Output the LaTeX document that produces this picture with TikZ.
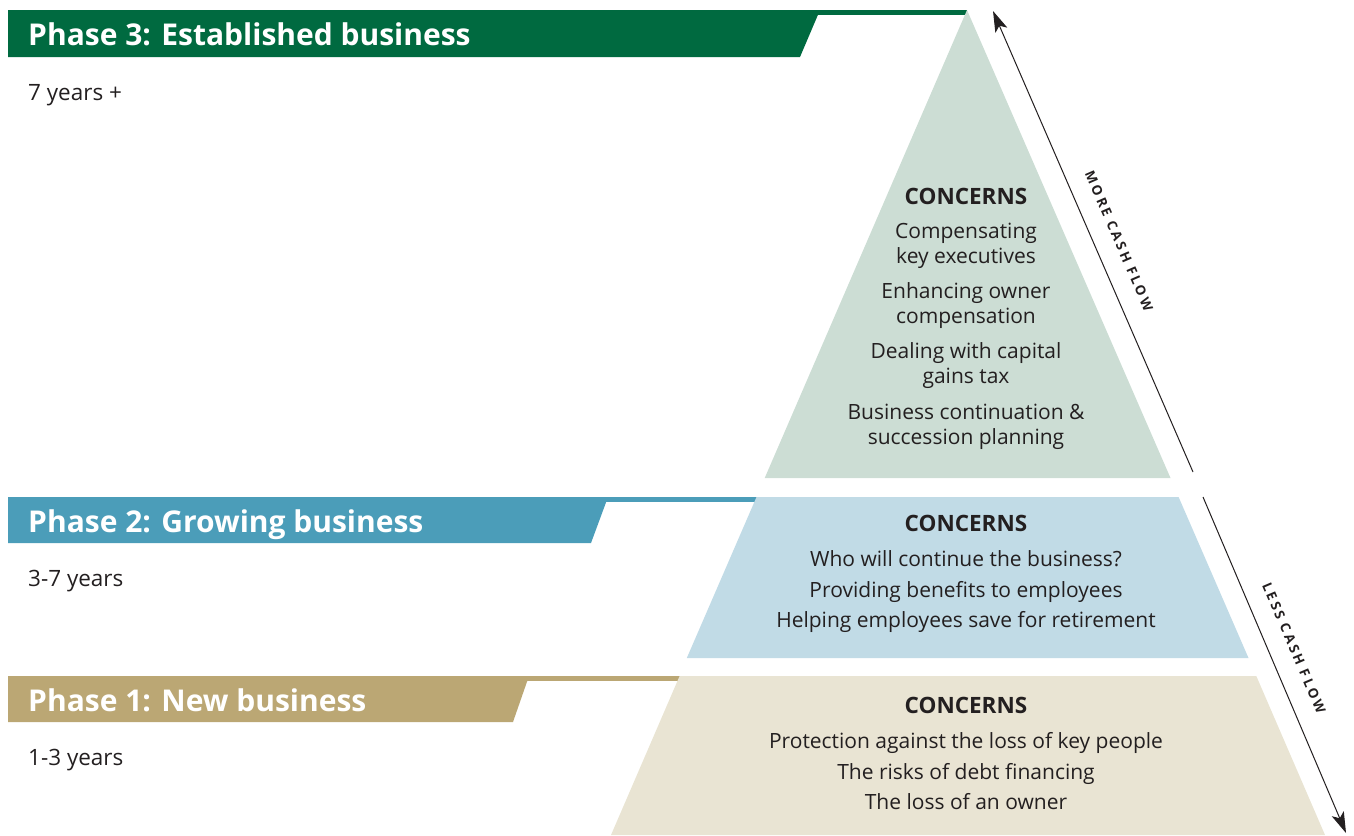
\documentclass[tikz,border=0pt]{standalone}
\usepackage{fontspec}
\setmainfont{Open Sans}
\newfontfamily\spacedfont{Open Sans}[LetterSpace=20]
\usetikzlibrary{arrows.meta}
\definecolor{gDark}{HTML}{006A40}
\definecolor{bDark}{HTML}{4B9DB9}
\definecolor{tDark}{HTML}{BBA774}
\definecolor{gLight}{HTML}{CCDDD4}
\definecolor{bLight}{HTML}{C1DBE6}
\definecolor{tLight}{HTML}{E9E4D3}
\definecolor{ink}{HTML}{231F20}
\tikzset{
  bannertext/.style={anchor=base west, text=white, font=\fontsize{30}{34}\selectfont\bfseries, inner sep=0pt},
  yearstext/.style={anchor=base west, text=ink, font=\fontsize{22.5}{26}\selectfont, inner sep=0pt},
  headtext/.style={anchor=base, text=ink, font=\fontsize{22.5}{26}\selectfont\bfseries, inner sep=0pt},
  bodytext/.style={anchor=base, text=ink, font=\fontsize{21}{25}\selectfont, align=center, inner sep=0pt},
  flowtext/.style={text=ink, font=\fontsize{13.5}{15}\selectfont\bfseries\spacedfont, inner sep=0pt},
  flowarrow/.style={draw=ink, line width=1pt, -{Stealth[length=21pt,width=13pt,inset=5pt]}}
}
\begin{document}
\begin{tikzpicture}[x=1pt,y=-1pt]
\useasboundingbox (0,0) rectangle (1354,835);
% pyramid pieces (strips first)
\fill[gDark] (790,10) rectangle (967,15);
\fill[bDark] (590,497) rectangle (757,502);
\fill[tDark] (510,676) rectangle (680,681);
\fill[gLight] (967,10) -- (1170.5,478) -- (764.7,478) -- cycle;
\fill[bLight] (756.5,497) -- (1178.6,497) -- (1248.5,658) -- (686.8,658) -- cycle;
\fill[tLight] (679.6,676) -- (1256.3,676) -- (1325,835) -- (611,835) -- cycle;
% banners
\fill[gDark] (8,10) -- (820,10) -- (800,57) -- (8,57) -- cycle;
\fill[bDark] (8,497) -- (608,497) -- (591,543) -- (8,543) -- cycle;
\fill[tDark] (8,676) -- (529,676) -- (513,722) -- (8,722) -- cycle;
\node[bannertext] (p3) at (28,45) {Phase 3: Established business};
\node[bannertext] (p2) at (28,532) {Phase 2: Growing business};
\node[bannertext] (p1) at (28,711) {Phase 1: New business};
\node[yearstext] (y3) at (28,100) {7 years +};
\node[yearstext] (y2) at (28,586) {3-7 years};
\node[yearstext] (y1) at (28,765) {1-3 years};
% phase 3 concerns
\node[headtext] (c3) at (966,204) {CONCERNS};
\node[bodytext] (c3a) at (966,263) {Compensating\\key executives};
\node[bodytext] (c3b) at (966,323) {Enhancing owner\\compensation};
\node[bodytext] (c3c) at (966,383) {Dealing with capital\\gains tax};
\node[bodytext] (c3d) at (966,444) {Business continuation \&\\succession planning};
% phase 2 concerns
\node[headtext] (c2) at (966,531) {CONCERNS};
\node[bodytext] (c2a) at (966,566) {Who will continue the business?};
\node[bodytext] (c2b) at (966,597) {Providing benefits to employees};
\node[bodytext] (c2c) at (966,627) {Helping employees save for retirement};
% phase 1 concerns
\node[headtext] (c1) at (966,713) {CONCERNS};
\node[bodytext] (c1a) at (966,748) {Protection against the loss of key people};
\node[bodytext] (c1b) at (966,779) {The risks of debt financing};
\node[bodytext] (c1c) at (966,809) {The loss of an owner};
% cash flow arrows
\coordinate (mfrom) at (1193,472);
\coordinate (mto) at (993,11);
\coordinate (lfrom) at (1203,497);
\coordinate (lto) at (1346,833);
\draw[flowarrow] (mfrom) -- (mto);
\draw[flowarrow] (lfrom) -- (lto);
\node[flowtext, rotate=-66.5] (more) at (1119,241) {MORE CASH FLOW};
\node[flowtext, rotate=-66.9] (less) at (1294,648) {LESS CASH FLOW};
\end{tikzpicture}
\end{document}
